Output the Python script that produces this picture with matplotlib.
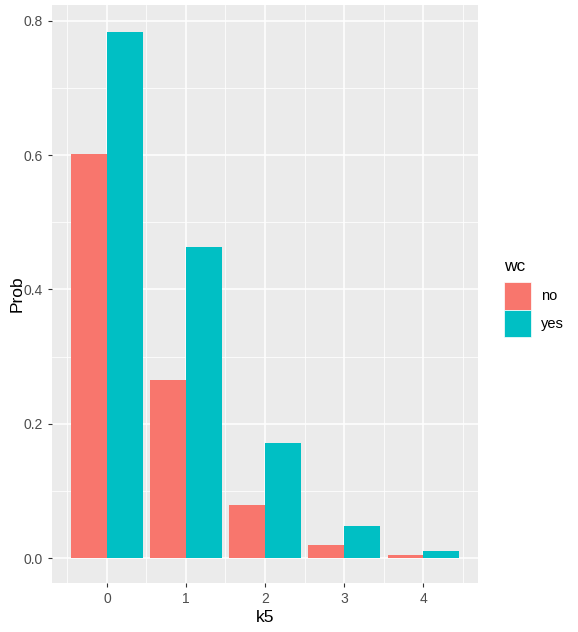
import matplotlib
matplotlib.use("Agg")
import matplotlib.pyplot as plt
import numpy as np
from matplotlib.patches import Patch
from matplotlib.ticker import MultipleLocator, FormatStrFormatter

plt.rcParams["font.family"] = ["Liberation Sans", "DejaVu Sans"]

k5 = [0, 1, 2, 3, 4]
prob_no = [0.602, 0.265, 0.079, 0.0195, 0.0045]
prob_yes = [0.784, 0.463, 0.171, 0.047, 0.0105]
groups = ["no", "yes"]
colors = {"no": "#F8766D", "yes": "#00BFC4"}

fig = plt.figure(figsize=(5.78, 6.32), dpi=100)
ax = fig.add_axes([0.090, 0.0775, 0.737, 0.9145])
ax.set_facecolor("#EBEBEB")

x = np.array(k5, dtype=float)
w = 0.45
ax.bar(x - w / 2, prob_no, width=w, color=colors["no"], zorder=3)
ax.bar(x + w / 2, prob_yes, width=w, color=colors["yes"], zorder=3)

ax.set_xlim(-0.695, 4.695)
ax.set_ylim(-0.0372, 0.8235)
ax.xaxis.set_major_locator(MultipleLocator(1))
ax.xaxis.set_minor_locator(MultipleLocator(0.5))
ax.yaxis.set_major_locator(MultipleLocator(0.2))
ax.yaxis.set_minor_locator(MultipleLocator(0.1))
ax.yaxis.set_major_formatter(FormatStrFormatter("%.1f"))
ax.grid(which="major", color="white", linewidth=1.1, zorder=0)
ax.grid(which="minor", color="white", linewidth=0.55, zorder=0)
ax.set_axisbelow(True)
for s in ax.spines.values():
    s.set_visible(False)
ax.tick_params(which="major", length=3, color="#333333", labelcolor="#4D4D4D",
               labelsize=10, width=0.8)
ax.tick_params(which="minor", length=0)

ax.set_xlabel("k5", fontsize=12.5, color="black", labelpad=3)
ax.set_ylabel("Prob", fontsize=12.5, color="black")
ax.yaxis.set_label_coords(-0.065, 0.5)

handles = [Patch(facecolor=colors[g], edgecolor="white", linewidth=0.5) for g in groups]
leg = fig.legend(handles, groups, title="wc", loc="upper left",
                 bbox_to_anchor=(0.862, 0.600), frameon=False,
                 fontsize=10.5, title_fontsize=12.5, handlelength=1.85,
                 handleheight=2.55, handletextpad=0.7, labelspacing=0.0,
                 borderaxespad=0)
leg._legend_box.align = "left"
leg._legend_box.sep = 6

fig.savefig("out.png", dpi=100)
